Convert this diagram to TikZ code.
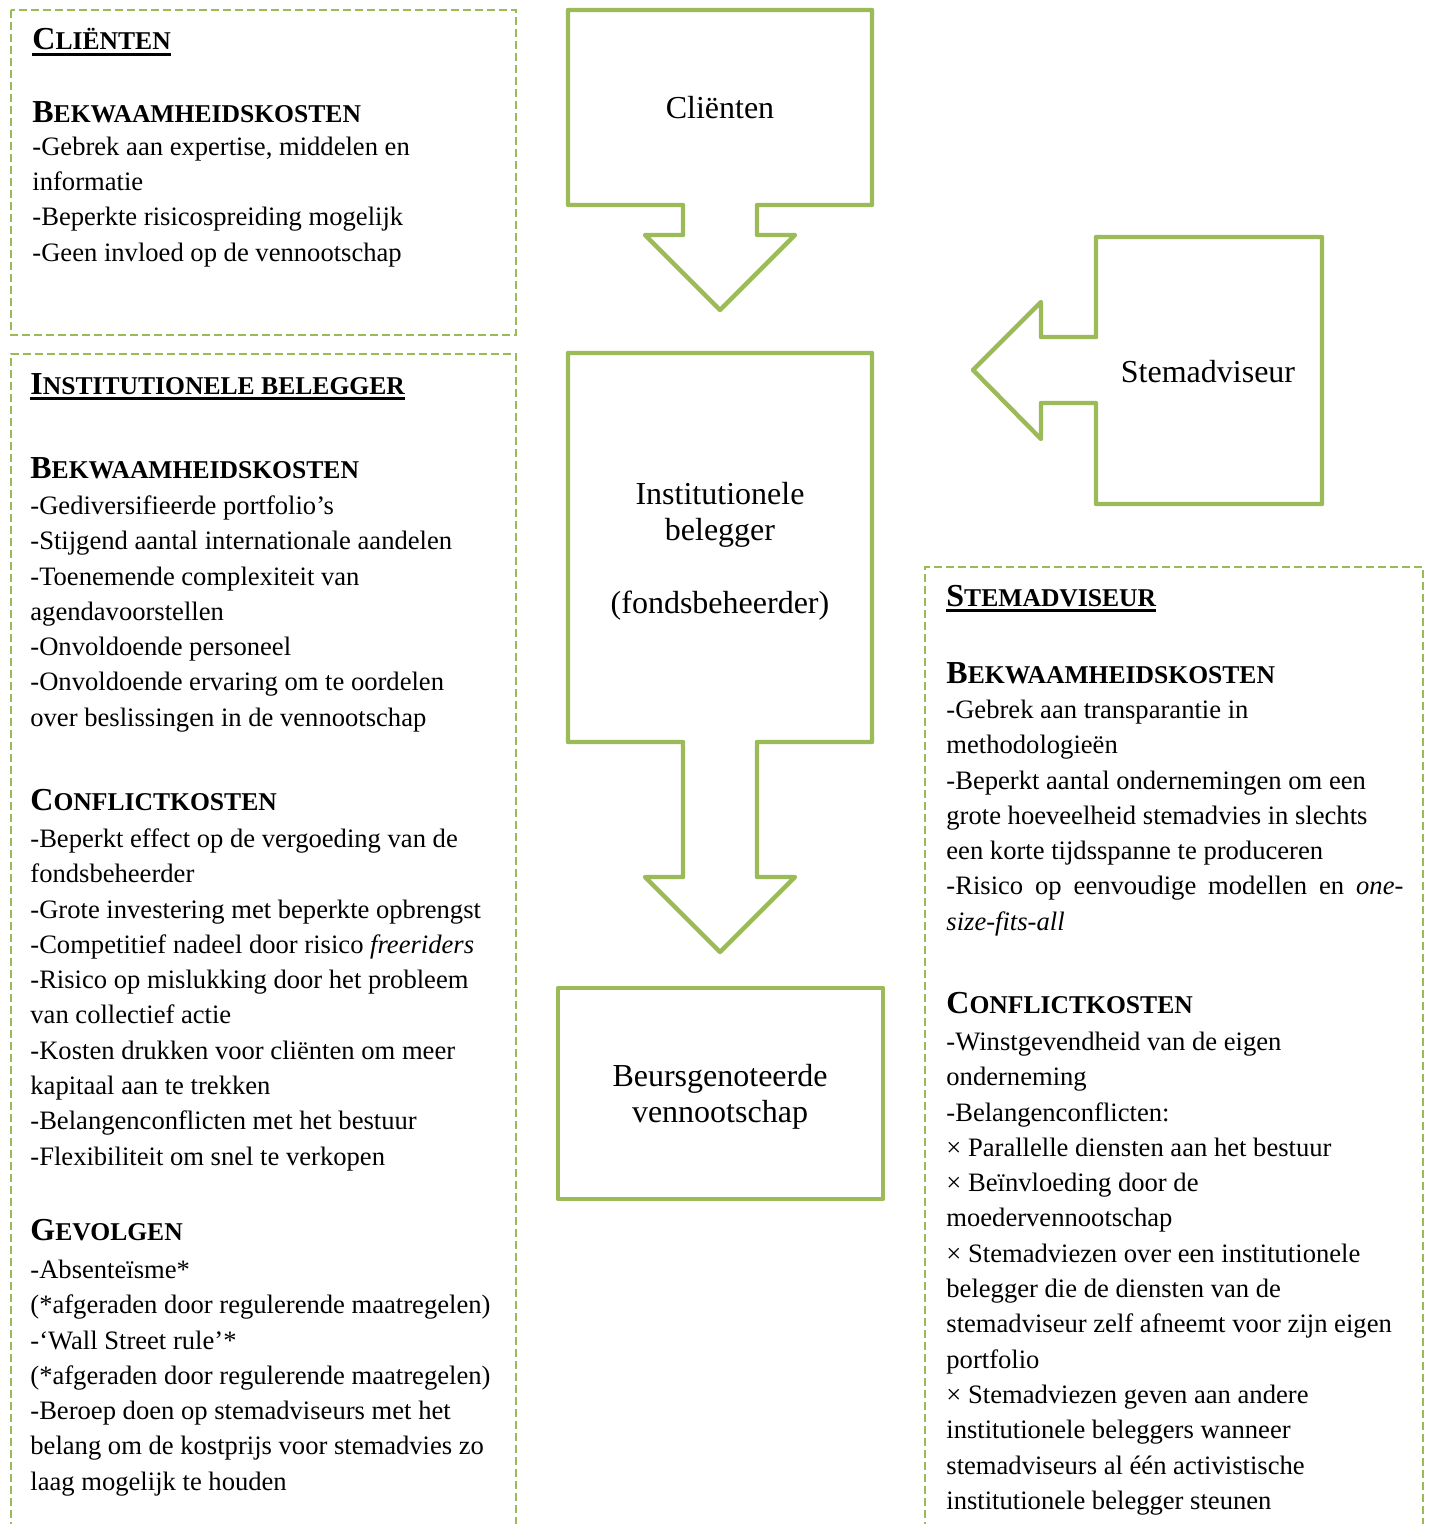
\documentclass[tikz,border=0pt]{standalone}
\usepackage{fontspec}
\setmainfont{Liberation Serif}
\usetikzlibrary{positioning}

\definecolor{groen}{HTML}{9BBB59}

\newsavebox{\titelbox}
\newcommand{\kop}[2]{{\bfseries\fontsize{16}{17.65}\selectfont #1\fontsize{12.8}{17.65}\selectfont #2}}
\newcommand{\titel}[2]{\sbox{\titelbox}{\kop{#1}{#2}}\rlap{\rule[-2.9pt]{\wd\titelbox}{1.6pt}}\usebox{\titelbox}}
\newcommand{\bovenrand}{\rule{0pt}{12pt}}
\newcommand{\labelrand}{\rule{0pt}{16pt}}

\begin{document}
\begin{tikzpicture}[
            x = 0.5pt,
            y = -0.5pt
        ]

        \tikzstyle{kader}=[
            draw = groen,
            line width = 1pt,
            dash pattern = on 4pt off 2pt
        ]
        \tikzstyle{vorm}=[
            draw = groen,
            line width = 2.2pt,
            line join = round
        ]
        \tikzstyle{kopje}=[anchor = base west, inner sep = 0pt]
        \tikzstyle{lijst}=[
            anchor = north west,
            inner sep = 0pt,
            align = left,
            font = \fontsize{13.3}{17.65}\selectfont
        ]
        \tikzstyle{etiket}=[
            inner sep = 0pt,
            align = center,
            font = \fontsize{16}{18.25}\selectfont
        ]

        \useasboundingbox (0,0) rectangle (1429,1524);

        % stippelkaders
        \draw[kader] (11,10) rectangle (516,335);
        \draw[kader] (11,1530) -- (11,354) -- (516,354) -- (516,1530);
        \draw[kader] (925,1530) -- (925,567) -- (1423,567) -- (1423,1530);

        % pijlvormen
        \draw[vorm] (568,10) -- (872,10) -- (872,205) -- (757,205) -- (757,235) -- (795,235)
            -- (720,310) -- (645,235) -- (683,235) -- (683,205) -- (568,205) -- cycle;
        \draw[vorm] (568,353) -- (872,353) -- (872,742) -- (757,742) -- (757,877) -- (795,877)
            -- (720,952) -- (645,877) -- (683,877) -- (683,742) -- (568,742) -- cycle;
        \draw[vorm] (1096,237) -- (1322,237) -- (1322,504) -- (1096,504) -- (1096,403) -- (1041,403)
            -- (1041,439) -- (973,370) -- (1041,302) -- (1041,337) -- (1096,337) -- cycle;
        \draw[vorm] (558,988) rectangle (883,1199);

        \node[etiket, anchor=base] (clienten) at (720,119) {Cliënten};
        \node[etiket, anchor=north] (belegger) at (720,472)
            {\labelrand Institutionele\\belegger\\[18.25pt](fondsbeheerder)};
        \node[etiket, anchor=north] (beurs) at (720,1054)
            {\labelrand Beursgenoteerde\\vennootschap};
        \node[etiket, anchor=base] (stemadviseur) at (1208,382) {Stemadviseur};

        % clienten
        \node[kopje] (titelA) at (32,50) {\titel{C}{LIËNTEN}};
        \node[kopje] (bekwA) at (32,123) {\kop{B}{EKWAAMHEIDSKOSTEN}};
        \node[lijst] (lijstA) at (32,131) {\bovenrand -Gebrek aan expertise, middelen en\\
            informatie\\
            -Beperkte risicospreiding mogelijk\\
            -Geen invloed op de vennootschap};

        % institutionele belegger
        \node[kopje] (titelB) at (30,394) {\titel{I}{NSTITUTIONELE BELEGGER}};
        \node[kopje] (bekwB) at (30,478) {\kop{B}{EKWAAMHEIDSKOSTEN}};
        \node[lijst] (lijstB) at (30,490) {\bovenrand -Gediversifieerde portfolio’s\\
            -Stijgend aantal internationale aandelen\\
            -Toenemende complexiteit van\\
            agendavoorstellen\\
            -Onvoldoende personeel\\
            -Onvoldoende ervaring om te oordelen\\
            over beslissingen in de vennootschap};
        \node[kopje] (conflB) at (30,810) {\kop{C}{ONFLICTKOSTEN}};
        \node[lijst] (lijstB2) at (30,823) {\bovenrand -Beperkt effect op de vergoeding van de\\
            fondsbeheerder\\
            -Grote investering met beperkte opbrengst\\
            -Competitief nadeel door risico \textit{freeriders}\\
            -Risico op mislukking door het probleem\\
            van collectief actie\\
            -Kosten drukken voor cliënten om meer\\
            kapitaal aan te trekken\\
            -Belangenconflicten met het bestuur\\
            -Flexibiliteit om snel te verkopen};
        \node[kopje] (gevolgB) at (30,1240) {\kop{G}{EVOLGEN}};
        \node[lijst] (lijstB3) at (30,1254) {\bovenrand -Absenteïsme*\\
            (*afgeraden door regulerende maatregelen)\\
            -‘Wall Street rule’*\\
            (*afgeraden door regulerende maatregelen)\\
            -Beroep doen op stemadviseurs met het\\
            belang om de kostprijs voor stemadvies zo\\
            laag mogelijk te houden};

        % stemadviseur
        \node[kopje] (titelC) at (946,606) {\titel{S}{TEMADVISEUR}};
        \node[kopje] (bekwC) at (946,683) {\kop{B}{EKWAAMHEIDSKOSTEN}};
        \node[lijst] (lijstC) at (946,694) {\bovenrand -Gebrek aan transparantie in\\
            methodologieën\\
            -Beperkt aantal ondernemingen om een\\
            grote hoeveelheid stemadvies in slechts\\
            een korte tijdsspanne te produceren\\
            \makebox[228.5pt][s]{-Risico op eenvoudige modellen en \textit{one-}}\\
            \textit{size-fits-all}};
        \node[kopje] (conflC) at (946,1013) {\kop{C}{ONFLICTKOSTEN}};
        \node[lijst] (lijstC2) at (946,1026) {\bovenrand -Winstgevendheid van de eigen\\
            onderneming\\
            -Belangenconflicten:\\
            × Parallelle diensten aan het bestuur\\
            × Beïnvloeding door de\\
            moedervennootschap\\
            × Stemadviezen over een institutionele\\
            belegger die de diensten van de\\
            stemadviseur zelf afneemt voor zijn eigen\\
            portfolio\\
            × Stemadviezen geven aan andere\\
            institutionele beleggers wanneer\\
            stemadviseurs al één activistische\\
            institutionele belegger steunen};

    \end{tikzpicture}
\end{document}
